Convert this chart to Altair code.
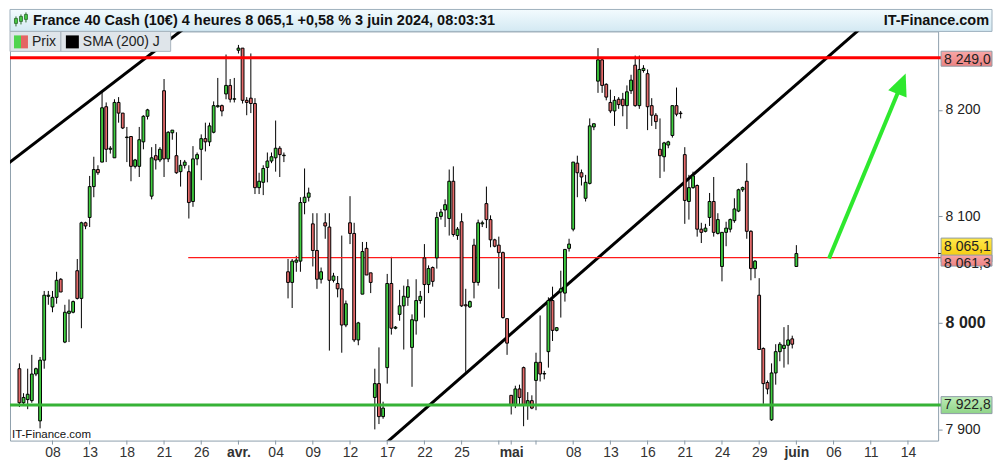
import json
import altair as alt
import pandas as pd

# ---------------- data (4h candles, 3 per trading day; k=0 -> first candle of 8 March 2024)
FIRST_K = -8
opens = [
    7957, 7925, 7928, 7927, 7952, 7908, 7965, 8025, 8015, 8024,
    8041, 7982, 8009, 8010, 8049, 8023, 8094, 8099, 8128, 8144,
    8151, 8203, 8163, 8155, 8207, 8197, 8174, 8175, 8147, 8147,
    8170, 8194, 8119, 8157, 8153, 8218, 8154, 8178.5, 8157, 8142,
    8148, 8142, 8114, 8154, 8163, 8173, 8170, 8179, 8203, 8204,
    8215, 8223, 8210, 8256, 8258, 8209, 8211, 8206, 8127, 8132,
    8146, 8152, 8155, 8164, 8157, 8048, 8038, 8057, 8058, 8113,
    8118, 8093, 8068, 8041, 8094, 8090, 8040, 8037, 8032, 7998,
    8094, 8084, 7984, 8027, 8070, 8047, 7930, 7943, 7912, 7958,
    8037, 7995, 8008, 8016, 8024, 7977, 8002, 8021, 8061, 8036,
    8052, 8061, 8100, 8106, 8098, 8133, 8082, 8095, 8017, 8015,
    8073, 8038, 8093, 8112, 8097, 8078, 8073, 8066, 8004, 7932,
    7923, 7938, 7958, 7923, 7927, 7946, 7963, 7952, 7973, 8021,
    7993, 8029, 8028, 8070, 8088, 8150, 8141, 8117, 8131, 8184,
    8227, 8247, 8224, 8207, 8199, 8210, 8210, 8204, 8218, 8242,
    8204, 8237, 8234, 8204, 8195, 8163, 8156, 8167, 8176, 8204,
    8197, 8158, 8114, 8127, 8129, 8088, 8086, 8099, 8114, 8084,
    8053, 8085, 8088, 8096, 8105, 8125, 8133, 8086, 8051, 8026,
    7976, 7944, 7909, 7953, 7973, 7976, 7979, 7985, 8053,
]
highs = [
    7962, 7934, 7957, 7970, 7958, 7968, 8030, 8030, 8030, 8048,
    8042, 8017, 8022, 8021, 8060, 8095, 8095, 8138, 8156, 8148,
    8218, 8207, 8166, 8210, 8212, 8197, 8184, 8175, 8154, 8184,
    8195, 8201, 8165, 8168, 8165, 8229, 8180, 8181, 8179, 8153,
    8153, 8148, 8166, 8160, 8177, 8188, 8188, 8208, 8230, 8205,
    8252, 8229, 8230, 8261, 8258, 8212, 8253, 8211, 8141, 8148,
    8160, 8160, 8190, 8166, 8160, 8060, 8060, 8063, 8118, 8145,
    8127, 8103, 8103, 8052, 8103, 8103, 8047, 8044, 8082, 8021,
    8119, 8094, 8001, 8076, 8076, 8047, 7957, 7977, 7926, 8046,
    8062, 7997, 8031, 8035, 8041, 8008, 8041, 8030, 8074, 8054,
    8053, 8104, 8107, 8116, 8144, 8147, 8090, 8103, 8032, 8021,
    8079, 8097, 8096, 8128, 8101, 8079, 8081, 8067, 8004, 7932,
    7941, 7942, 7959, 7935, 7932, 7972, 8007, 7955, 8024, 8034,
    7996, 8049, 8069, 8079, 8151, 8157, 8144, 8139, 8192, 8187,
    8258, 8248, 8225, 8219, 8213, 8212, 8216, 8223, 8233, 8251,
    8251, 8242, 8238, 8211, 8197, 8192, 8170, 8171, 8204, 8221,
    8199, 8165, 8139, 8142, 8130, 8094, 8093, 8122, 8137, 8103,
    8085, 8095, 8098, 8117, 8126, 8128, 8150, 8087, 8059, 8042,
    7977, 7946, 7962, 7980, 7982, 7996, 7998, 7988, 8073,
]
lows = [
    7921, 7923, 7919, 7925, 7950, 7901, 7957, 8017, 8010, 8018,
    8029, 7981, 7982, 8009, 8022, 7995, 8088, 8090, 8118, 8139,
    8151, 8151, 8159, 8155, 8188, 8182, 8151, 8133, 8145, 8137,
    8163, 8191, 8116, 8144, 8151, 8137, 8151, 8172, 8140, 8128,
    8145, 8098, 8109, 8148, 8134, 8161, 8166, 8178, 8202, 8194,
    8210, 8207, 8207, 8253, 8206, 8195, 8197, 8121, 8121, 8120,
    8132, 8150, 8142, 8137, 8151, 8023, 8014, 8048, 8048, 8102,
    8114, 8053, 8032, 8037, 8079, 7974, 8038, 8024, 7972, 7996,
    8074, 7982, 7979, 8027, 8045, 8028, 7900, 7905, 7910, 7943,
    7989, 7994, 8002, 7975, 8016, 7940, 7989, 8018, 8005, 8028,
    8034, 8051, 8097, 8090, 8082, 8081, 8078, 8015, 7954, 8014,
    8023, 8035, 8090, 8089, 8071, 8071, 8032, 8004, 7970, 7914,
    7920, 7922, 7903, 7909, 7919, 7918, 7945, 7947, 7958, 7983,
    7992, 8005, 8020, 8067, 8086, 8118, 8129, 8114, 8130, 8181,
    8216, 8216, 8209, 8197, 8185, 8201, 8194, 8182, 8215, 8203,
    8201, 8235, 8181, 8185, 8182, 8136, 8142, 8164, 8174, 8194,
    8192, 8093, 8097, 8126, 8081, 8075, 8085, 8091, 8081, 8083,
    8039, 8072, 8085, 8094, 8104, 8123, 8079, 8040, 8042, 7975,
    7924, 7933, 7908, 7942, 7964, 7958, 7961, 7976, 8053,
]
closes = [
    7925, 7930, 7933, 7952, 7957, 7965, 8026, 8026, 8024, 8040,
    8029, 8010, 8011, 8020, 8023, 8094, 8091, 8128, 8144, 8141,
    8202, 8163, 8164, 8207, 8197, 8183, 8174.5, 8147, 8153, 8172,
    8194, 8200, 8155, 8153, 8163, 8154, 8179, 8181, 8141, 8148,
    8151, 8113, 8154, 8158, 8173, 8170, 8185, 8204, 8204, 8199,
    8223, 8210, 8210.5, 8258, 8209, 8207, 8206, 8127, 8133, 8145,
    8152, 8156, 8164, 8158, 8157.5, 8038, 8058, 8059, 8113, 8118,
    8122, 8068, 8041, 8048, 8091, 8040, 8044, 8032, 7998, 8018,
    8084, 7984, 8000, 8067, 8045, 8038, 7943, 7912, 7920, 8037,
    7995, 7996, 8016, 8025, 8034, 8003, 8021, 8025, 8036, 8051,
    8039, 8099, 8104, 8111, 8133, 8083, 8088, 8016, 8016, 8020,
    8038, 8094, 8094, 8097, 8078, 8072, 8066, 8005, 7981, 7923,
    7938, 7930, 7923, 7927, 7920, 7963, 7952, 7952.5, 8021, 7993,
    7995.5, 8032, 8069, 8074, 8151, 8141, 8137, 8132, 8185, 8187,
    8247, 8223, 8212, 8199, 8209, 8205, 8204, 8217, 8228, 8204,
    8238, 8239, 8203, 8195, 8189, 8157, 8169, 8170, 8204, 8196,
    8196.5, 8115, 8127, 8138, 8088, 8085, 8089, 8114, 8085, 8097,
    8085, 8089, 8097, 8107, 8125, 8127, 8086, 8051, 8058, 7975,
    7943, 7938, 7953, 7973, 7980, 7979, 7984, 7980, 8065.1,
]

# x-axis labels (candle index of the first candle of the labelled day)
label_ks = [0, 9, 18, 27, 36, 45, 54, 63, 72, 81, 90, 99, 111, 126, 135, 144, 153, 162, 171, 180, 189, 198, 207]
label_txt = ["08", "13", "18", "21", "26", "avr.", "04", "09", "12", "17", "22", "25", "mai",
             "08", "13", "16", "21", "24", "29", "juin", "06", "11", "14"]
month_ks = [45, 111, 180]
tick_ks = [0, 9, 18, 27, 36, 45, 54, 63, 72, 81, 90, 99, 108, 111, 117, 126, 135, 144, 153,
           162, 171, 180, 189, 198, 207]
y_ticks = [7900, 8000, 8100, 8200]

# drawn levels / tools
level_red = 8249.0
level_green = 7922.8
level_thin = 8061.3
thin_start_k = 32.85
last_price = 8065.1

sma_seg = ["a", "a", "b", "b"]
sma_k = [-12, 40, 75, 200]
sma_p = [8145.9, 8300.7, 7867.8, 8291.7]

arrow_k = [187.9, 205.2]
arrow_p = [8060.5, 8222.2]

# ---------------- layout
W, H = 930, 410
XDOM = [-9.07, 213.09]
YDOM = [7889.5, 8273.7]
FONT = "Liberation Sans"
GREEN = "#3fcf3f"
RED = "#e46a6a"
ARROW = "#2ee82e"

n = min(len(opens), len(highs), len(lows), len(closes))
df = pd.DataFrame({
    "k": list(range(FIRST_K, FIRST_K + n)),
    "open": opens[:n], "high": highs[:n], "low": lows[:n], "close": closes[:n],
})
df["hi"] = df[["open", "high", "close"]].max(axis=1)
df["lo"] = df[["open", "low", "close"]].min(axis=1)

xs = alt.Scale(domain=XDOM, nice=False, zero=False)
ys = alt.Scale(domain=YDOM, nice=False, zero=False)

x_axis = alt.Axis(
    values=label_ks,
    labelExpr=f"{json.dumps(label_txt)}[indexof({json.dumps(label_ks)}, datum.value)]",
    ticks=False, domain=False, grid=False, title="",
    labelFont=FONT, labelFontSize=14, labelColor="#333333", labelPadding=5,
    labelFontWeight={"expr": f"indexof({json.dumps(month_ks)}, datum.value) >= 0 ? 'bold' : 'normal'"},
    labelOverlap=False, labelFlush=False,
)
y_axis = alt.Axis(
    orient="right", values=y_ticks,
    labelExpr="replace(format(datum.value, ','), ',', ' ')",
    tickSize=4, tickColor="#8696a4", domain=False, grid=False, title="",
    labelFont=FONT, labelColor="#222222", labelPadding=3,
    labelFontSize={"expr": "datum.value == 8000 ? 16 : 14"},
    labelFontWeight={"expr": "datum.value == 8000 ? 'bold' : 'normal'"},
)


def X(field):
    return alt.X(field, scale=xs, axis=x_axis)


def Y(field):
    return alt.Y(field, scale=ys, axis=y_axis)


one = pd.DataFrame({"a": [0]})

# ---------------- layers
wicks = alt.Chart(df).mark_rule(color="black", strokeWidth=1).encode(
    x=X("k:Q"), y=Y("lo:Q"), y2="hi:Q",
)
bodies = alt.Chart(df).mark_bar(width=2.8, stroke="black", strokeWidth=1).encode(
    x=X("k:Q"), y=Y("open:Q"), y2="close:Q",
    fill=alt.condition("datum.close >= datum.open", alt.value(GREEN), alt.value(RED)),
)

ticks = alt.Chart(pd.DataFrame({"k": tick_ks})).mark_rule(color="#8898a6").encode(
    x=X("k:Q"), y=alt.value(H), y2=alt.value(H + 4)
)

red_line = alt.Chart(pd.DataFrame({"p": [level_red]})).mark_rule(color="#ff0000", strokeWidth=3).encode(
    y=Y("p:Q"), x=alt.value(0), x2=alt.value(W + 3)
)
green_line = alt.Chart(pd.DataFrame({"p": [level_green]})).mark_rule(color="#36b236", strokeWidth=3).encode(
    y=Y("p:Q"), x=alt.value(0), x2=alt.value(W + 3)
)
thin_line = alt.Chart(pd.DataFrame({"p": [level_thin], "k": [thin_start_k]})).mark_rule(
    color="#ff1a1a", strokeWidth=1.3).encode(
    y=Y("p:Q"), x=X("k:Q"), x2=alt.value(W + 3)
)
last_tick = alt.Chart(pd.DataFrame({"p": [last_price]})).mark_rule(color="black", strokeWidth=1).encode(
    y=Y("p:Q"), x=alt.value(W), x2=alt.value(W + 4)
)

sma = alt.Chart(pd.DataFrame({"seg": sma_seg, "k": sma_k, "p": sma_p})).mark_line(
    color="black", strokeWidth=3, clip=True).encode(
    x=X("k:Q"), y=Y("p:Q"), detail="seg:N"
)

arrow_df = pd.DataFrame({"k": arrow_k, "p": arrow_p})
arrow_line = alt.Chart(arrow_df).mark_line(color=ARROW, strokeWidth=4, strokeCap="butt").encode(
    x=X("k:Q"), y=Y("p:Q")
)
arrow_head = alt.Chart(arrow_df.tail(1)).mark_point(
    shape="M0,-1L0.72,0.6L-0.72,0.6Z", filled=True, fill=ARROW, strokeWidth=0, opacity=1,
    size=756, angle=22).encode(
    x=X("k:Q"), y=Y("p:Q")
)

box_half = 8.5 * (YDOM[1] - YDOM[0]) / H


def grad(c1, c2):
    return alt.LinearGradient(gradient="linear", x1=0, x2=0, y1=0, y2=1,
                              stops=[alt.GradientStop(color=c1, offset=0),
                                     alt.GradientStop(color=c2, offset=1)])


def price_box(price, text, fill, dy):
    d = pd.DataFrame({"p": [price], "t": [text]})
    base = alt.Chart(d).transform_calculate(top=f"datum.p + {box_half}", bot=f"datum.p - {box_half}")
    rect = base.mark_rect(fill=fill, stroke="#8f9ca7", strokeWidth=1, yOffset=dy).encode(
        x=alt.value(W + 3), x2=alt.value(W + 54),
        y=Y("top:Q"), y2="bot:Q")
    txt = base.mark_text(align="left", baseline="middle", font=FONT, fontSize=14,
                         color="#222222", dy=dy).encode(
        x=alt.value(W + 6), y=Y("p:Q"), text="t:N")
    return [rect, txt]


boxes = []
boxes += price_box(level_red, "8 249,0", grad("#f7a7a7", "#ec8282"), 2)
boxes += price_box(last_price, "8 065,1", grad("#ffe84a", "#f3c300"), -7)
boxes += price_box(level_thin, "8 061,3", grad("#f7a7a7", "#ec8282"), 6)
boxes += price_box(level_green, "7 922,8", grad("#bdecb7", "#8fd488"), 0)

# header bar
header = alt.Chart(one).mark_rect(fill=grad("#f3fbfe", "#d3e9f3"), stroke="#9fb1be", strokeWidth=1).encode(
    x=alt.value(0), x2=alt.value(984), y=alt.value(-22), y2=alt.value(0))
title_txt = alt.Chart(one).mark_text(
    text="France 40 Cash (10€) 4 heures 8 065,1 +0,58 % 3 juin 2024, 08:03:31",
    align="left", baseline="middle", font=FONT, fontSize=14.5, fontWeight="bold", color="#111111").encode(
    x=alt.value(23), y=alt.value(-10.5))
site_txt = alt.Chart(one).mark_text(
    text="IT-Finance.com", align="right", baseline="middle", font=FONT, fontSize=14.5,
    fontWeight="bold", color="#111111").encode(x=alt.value(981), y=alt.value(-10.5))
icon_wick = alt.Chart(pd.DataFrame({"x": [6, 11, 16], "a": [-15, -17, -19], "b": [-5, -7, -9]})).mark_rule(
    color="#2a6a2a").encode(x=alt.X("x:Q", scale=None), y=alt.Y("a:Q", scale=None), y2="b:Q")
icon_body = alt.Chart(pd.DataFrame({"x": [4.5, 9.5, 14.5], "a": [-13, -15, -17], "b": [-8, -10, -12]})).mark_rect(
    fill="#45c845", stroke="#2a6a2a", strokeWidth=0.8).encode(
    x=alt.X("x:Q", scale=None), x2=alt.X2("x2:Q"), y=alt.Y("a:Q", scale=None), y2="b:Q").transform_calculate(
    x2="datum.x + 3")

# legend boxes
leg_box1 = alt.Chart(one).mark_rect(fill="#dfe5ea", stroke="#a9b5be", strokeWidth=1).encode(
    x=alt.value(0), x2=alt.value(51), y=alt.value(0), y2=alt.value(20))
leg_box2 = alt.Chart(one).mark_rect(fill="#dfe5ea", stroke="#a9b5be", strokeWidth=1).encode(
    x=alt.value(51), x2=alt.value(161), y=alt.value(0), y2=alt.value(20))
leg_g = alt.Chart(one).mark_rect(fill="#4fd44f").encode(
    x=alt.value(4), x2=alt.value(11), y=alt.value(4), y2=alt.value(17))
leg_r = alt.Chart(one).mark_rect(fill="#e46464").encode(
    x=alt.value(11), x2=alt.value(18), y=alt.value(4), y2=alt.value(17))
leg_k = alt.Chart(one).mark_rect(fill="#000000").encode(
    x=alt.value(56), x2=alt.value(69), y=alt.value(4), y2=alt.value(17))
leg_t1 = alt.Chart(one).mark_text(text="Prix", align="left", baseline="middle", font=FONT,
                                  fontSize=14, color="#222222").encode(x=alt.value(22), y=alt.value(10.5))
leg_t2 = alt.Chart(one).mark_text(text="SMA (200) J", align="left", baseline="middle", font=FONT,
                                  fontSize=14, color="#222222").encode(x=alt.value(73), y=alt.value(10.5))

watermark = alt.Chart(one).mark_text(text="IT-Finance.com", align="left", baseline="bottom", font=FONT,
                                     fontSize=11.5, color="#111111").encode(x=alt.value(2), y=alt.value(H - 1))

chart = alt.layer(
    header, title_txt, site_txt, icon_wick, icon_body,
    wicks, ticks, sma, thin_line, bodies, red_line, green_line, last_tick,
    arrow_line, arrow_head,
    *boxes,
    leg_box1, leg_box2, leg_g, leg_r, leg_k, leg_t1, leg_t2, watermark,
).properties(width=W, height=H, padding=0, background="white").configure_view(
    stroke="#8fa0ad", strokeWidth=1)

chart.save("out.html", embed_options={"renderer": "svg", "actions": False})
